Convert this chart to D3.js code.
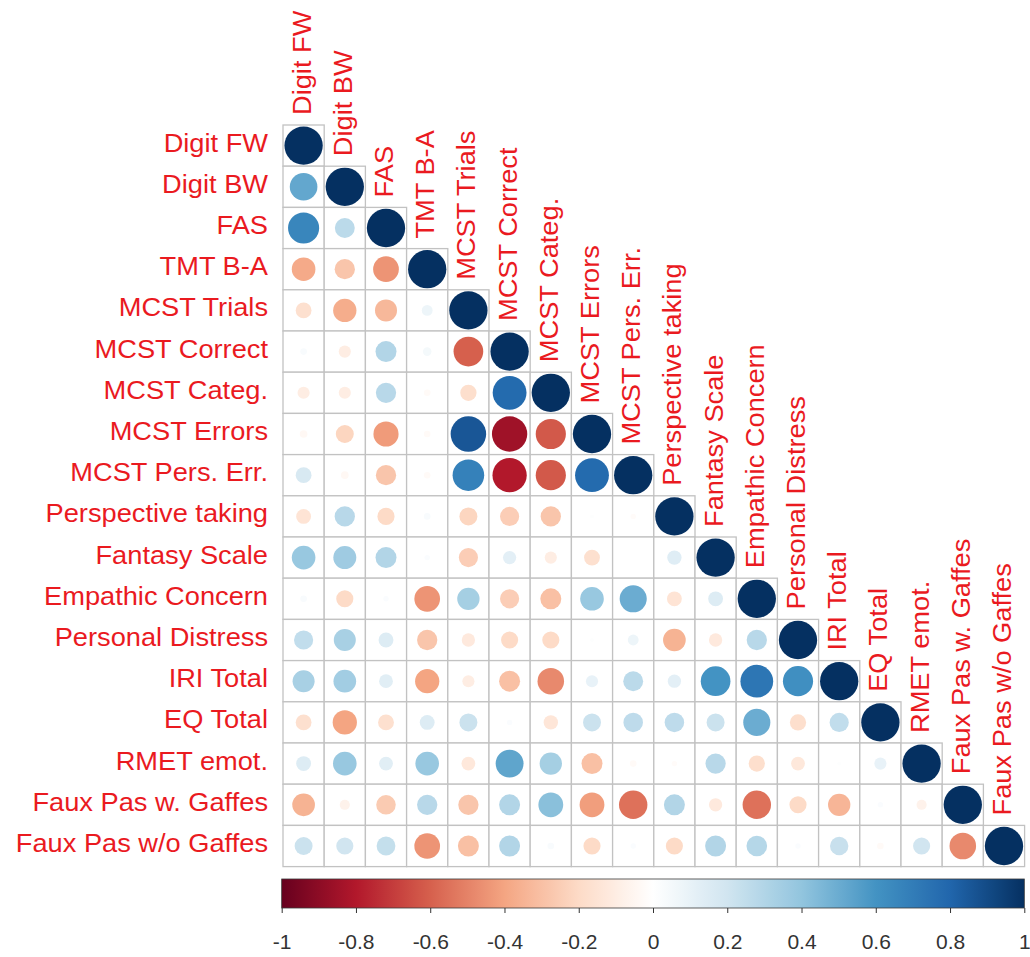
<head>
  <script src="https://d3js.org/d3.v7.min.js"></script>
  <style>
    body { margin: 0; background: #fff; }
    .lab { font-family: "Liberation Sans", Arial, sans-serif; fill: #ea1a1f; }
    .cell { fill: #fff; stroke: #c2c2c2; stroke-width: 1.3px; }
    .cbar text { font-family: "Liberation Sans", Arial, sans-serif; fill: #333; }
  </style>
</head>

<body>
  <svg id="chart" width="1030" height="957"></svg>
</body>

<script>
  const labels = ["Digit FW", "Digit BW", "FAS", "TMT B-A", "MCST Trials", "MCST Correct",
    "MCST Categ.", "MCST Errors", "MCST Pers. Err.", "Perspective taking", "Fantasy Scale",
    "Empathic Concern", "Personal Distress", "IRI Total", "EQ Total", "RMET emot.",
    "Faux Pas w. Gaffes", "Faux Pas w/o Gaffes"];

  // lower triangle, row i holds correlations with columns 0..i-1 (diagonal = 1)
  const corrRows = [
    [],
    [0.52],
    [0.66, 0.27],
    [-0.38, -0.28, -0.45],
    [-0.17, -0.37, -0.33, 0.08],
    [0.03, -0.1, 0.3, 0.05, -0.6],
    [-0.1, -0.1, 0.28, -0.03, -0.18, 0.78],
    [-0.04, -0.22, -0.43, -0.03, 0.86, -0.85, -0.62],
    [0.17, -0.04, -0.28, -0.03, 0.68, -0.8, -0.62, 0.78],
    [-0.15, 0.28, -0.2, 0.03, -0.22, -0.25, -0.28, 0.01, -0.02],
    [0.38, 0.36, 0.3, 0.02, -0.25, 0.12, -0.1, -0.17, 0.0, 0.14],
    [0.03, -0.2, 0.02, -0.45, 0.34, -0.25, -0.3, 0.38, 0.5, -0.15, 0.15],
    [0.25, 0.33, 0.15, -0.28, -0.12, -0.2, -0.2, 0.01, 0.08, -0.35, -0.12, 0.28],
    [0.33, 0.35, 0.13, -0.4, -0.1, -0.3, -0.48, 0.1, 0.27, 0.12, 0.6, 0.73, 0.62],
    [-0.17, -0.4, -0.17, 0.15, 0.22, 0.02, -0.14, 0.22, 0.26, 0.26, 0.22, 0.5, -0.18, 0.25],
    [0.15, 0.38, 0.13, 0.38, -0.13, 0.53, 0.34, -0.3, -0.03, -0.02, 0.28, -0.18, -0.13, 0.01, 0.1],
    [-0.35, -0.07, -0.26, 0.28, -0.28, 0.3, 0.42, -0.42, -0.55, 0.3, -0.12, -0.55, -0.2, -0.34, 0.02, -0.07],
    [0.22, 0.2, 0.24, -0.45, -0.3, 0.3, 0.03, -0.2, 0.02, -0.2, 0.3, 0.29, 0.02, 0.23, -0.03, 0.2, -0.48]
  ];

  const rdbu = ["#67001F", "#B2182B", "#D6604D", "#F4A582", "#FDDBC7", "#FFFFFF",
    "#D1E5F0", "#92C5DE", "#4393C3", "#2166AC", "#053061"];
  const tickValues = [-1, -0.8, -0.6, -0.4, -0.2, 0, 0.2, 0.4, 0.6, 0.8, 1];
  const tickLabels = ["-1", "-0.8", "-0.6", "-0.4", "-0.2", "0", "0.2", "0.4", "0.6", "0.8", "1"];

  const svg = d3.select("#chart");
  const gridLeft = 283, gridTop = 125, cell = 41.2, n = labels.length;

  const x = d3.scaleBand().domain(labels).range([gridLeft, gridLeft + n * cell]);
  const y = d3.scaleBand().domain(labels).range([gridTop, gridTop + n * cell]);
  const color = d3.scaleLinear().domain(d3.range(11).map(i => -1 + i * 0.2)).range(rdbu);
  const radius = d3.scaleSqrt().domain([0, 1]).range([0, 0.465 * cell]);

  // flatten to cells (with diagonal)
  const cells = [];
  labels.forEach((rl, i) => {
    corrRows[i].forEach((v, j) => cells.push({ row: rl, col: labels[j], v: v }));
    cells.push({ row: rl, col: rl, v: 1 });
  });

  const grid = svg.append("g");
  grid.selectAll("rect")
    .data(cells)
    .join("rect")
    .attr("class", "cell")
    .attr("x", d => x(d.col))
    .attr("y", d => y(d.row))
    .attr("width", x.bandwidth())
    .attr("height", y.bandwidth());

  grid.selectAll("circle")
    .data(cells)
    .join("circle")
    .attr("cx", d => x(d.col) + x.bandwidth() / 2)
    .attr("cy", d => y(d.row) + y.bandwidth() / 2)
    .attr("r", d => radius(Math.abs(d.v)))
    .attr("fill", d => color(d.v));

  // row labels
  svg.append("g").selectAll("text")
    .data(labels)
    .join("text")
    .attr("class", "lab")
    .attr("font-size", 25)
    .attr("text-anchor", "end")
    .attr("transform", d => `translate(268,${y(d) + y.bandwidth() / 2 + 6}) scale(1.09,1)`)
    .text(d => d);

  // column labels, sitting above the diagonal cells
  svg.append("g").selectAll("text")
    .data(labels)
    .join("text")
    .attr("class", "lab")
    .attr("font-size", 25)
    .attr("text-anchor", "start")
    .attr("transform", d => `translate(${x(d) + x.bandwidth() / 2 + 7},${y(d) - 10}) rotate(-90) scale(1.09,1)`)
    .text(d => d);

  // colour bar
  const cbX = d3.scaleLinear().domain([-1, 1]).range([281.7, 1024.3]);
  const cbTop = 879, cbH = 29;
  const grad = svg.append("defs").append("linearGradient").attr("id", "cbgrad");
  grad.selectAll("stop")
    .data(d3.range(0, 1.0001, 0.02))
    .join("stop")
    .attr("offset", d => d)
    .attr("stop-color", d => color(-1 + 2 * d));

  const cb = svg.append("g").attr("class", "cbar");
  cb.append("rect")
    .attr("x", cbX(-1))
    .attr("y", cbTop)
    .attr("width", cbX(1) - cbX(-1))
    .attr("height", cbH)
    .attr("fill", "url(#cbgrad)")
    .attr("stroke", "#3a3a3a")
    .attr("stroke-width", 0.8);

  const axis = d3.axisBottom(cbX)
    .tickValues(tickValues)
    .tickFormat((d, i) => tickLabels[i])
    .tickSize(5)
    .tickPadding(21);
  cb.append("g")
    .attr("transform", `translate(0,${cbTop + cbH})`)
    .call(axis)
    .call(g => g.select(".domain").remove())
    .call(g => g.selectAll("line").attr("stroke", "#333"))
    .call(g => g.selectAll("text").attr("font-size", 21).attr("fill", "#333"));
</script>
